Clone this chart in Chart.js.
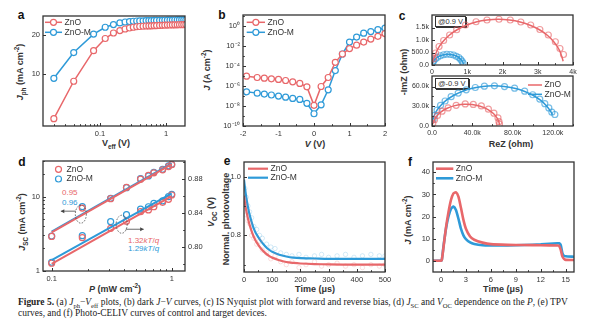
<!DOCTYPE html>
<html>
<head>
<meta charset="utf-8">
<script src="https://cdn.jsdelivr.net/npm/chart.js@4.4.1/dist/chart.umd.min.js"></script>
<style>
  html, body { margin: 0; padding: 0; background: #fff; }
  #fig { position: relative; width: 600px; height: 328px; overflow: hidden; font-family: "Liberation Sans", Arial, sans-serif; color: #333; }
  #fig canvas { position: absolute; }
  .t { position: absolute; white-space: nowrap; font-weight: bold; font-size: 9px; transform: translate(-50%, -50%); }
  .t.v { transform: translate(-50%, -50%) rotate(-90deg); }
  .lt { position: absolute; font-weight: bold; font-size: 12px; transform: translate(-50%, -50%); color: #111; }
  .note { position: absolute; font-size: 8px; white-space: nowrap; transform: translateY(-50%); }
  .bias { position: absolute; font-size: 7.5px; line-height: 9px; padding: 0 2px; background: #fff; border: 1px solid #333; box-shadow: 1px 1px 0 #333; }
  .cap { position: absolute; left: 18px; top: 297px; width: 590px; font-family: "Liberation Serif", "DejaVu Serif", serif; font-size: 9.45px; line-height: 11px; color: #222; white-space: nowrap; }
  sub, sup { font-size: 70%; line-height: 0; }
</style>
</head>
<body>
<div id="fig">
  <div class="lt" style="left:21px;top:15px">a</div>
  <div class="lt" style="left:222px;top:15px">b</div>
  <div class="lt" style="left:402px;top:16px">c</div>
  <div class="lt" style="left:22px;top:162px">d</div>
  <div class="lt" style="left:227px;top:161px">e</div>
  <div class="lt" style="left:410px;top:162px">f</div>

  <div class="t v" style="left:20px;top:72px"><i>J</i><sub>ph</sub> (mA cm<sup>-2</sup>)</div>
  <div class="t" style="left:116px;top:143px">V<sub>eff</sub> (V)</div>
  <div class="t v" style="left:207px;top:70px"><i>J</i> (A cm<sup>-2</sup>)</div>
  <div class="t" style="left:315px;top:144px"><i>V</i> (V)</div>
  <div class="t v" style="left:404px;top:72px">-ImZ (ohm)</div>
  <div class="t" style="left:511px;top:144px">ReZ (ohm)</div>
  <div class="t v" style="left:22px;top:222px"><i>J</i><sub>SC</sub> (mA cm<sup>-2</sup>)</div>
  <div class="t" style="left:115px;top:289px"><i>P</i> (mW cm<sup>-2</sup>)</div>
  <div class="t v" style="left:211px;top:212px"><i>V</i><sub>OC</sub> (V)</div>
  <div class="t v" style="left:226px;top:219px">Normal. photovoltage</div>
  <div class="t" style="left:315px;top:289px">Time (μs)</div>
  <div class="t v" style="left:408px;top:220px"><i>J</i> (mA cm<sup>-2</sup>)</div>
  <div class="t" style="left:503px;top:289px">Time (μs)</div>

  <div class="bias" style="left:435px;top:16px">@0.9 V</div>
  <div class="bias" style="left:435px;top:78px">@-0.9 V</div>

  <div class="note" style="left:62px;top:192px;color:#e8676a">0.95</div>
  <div class="note" style="left:62px;top:202px;color:#2e9ad8">0.96</div>
  <div class="note" style="left:128px;top:240px;color:#e8676a">1.32<i>kT</i>/<i>q</i></div>
  <div class="note" style="left:128px;top:248px;color:#2e9ad8">1.29<i>kT</i>/<i>q</i></div>

  <div class="cap"><b>Figure 5.</b> (a) <i>J</i><sub>ph</sub>−<i>V</i><sub>eff</sub> plots, (b) dark <i>J</i>−<i>V</i> curves, (c) IS Nyquist plot with forward and reverse bias, (d) <i>J</i><sub>SC</sub> and <i>V</i><sub>OC</sub> dependence on the <i>P</i>, (e) TPV<br>curves, and (f) Photo-CELIV curves of control and target devices.</div>
</div>

<script>
const RED = '#e8676a';
const BLUE = '#2e9ad8';

// (a) photocurrent vs effective voltage
const veff = [0.02, 0.04, 0.08, 0.12, 0.16, 0.2, 0.24, 0.28, 0.32, 0.36, 0.4, 0.45, 0.5, 0.55, 0.6, 0.66, 0.72, 0.8, 0.88, 0.96, 1.05, 1.15, 1.25, 1.36, 1.48, 1.6, 1.73, 1.86, 2.0];
const jphZnO = [4.55, 8.8, 15.1, 18.7, 20.6, 21.5, 22.1, 22.5, 22.8, 23.0, 23.1, 23.2, 23.3, 23.35, 23.4, 23.45, 23.5, 23.55, 23.6, 23.65, 23.7, 23.72, 23.75, 23.78, 23.8, 23.82, 23.85, 23.87, 23.9];
const jphZnOM = [9.27, 14.6, 20.2, 22.8, 23.9, 24.6, 25.0, 25.2, 25.35, 25.45, 25.5, 25.55, 25.6, 25.63, 25.66, 25.7, 25.72, 25.75, 25.78, 25.8, 25.82, 25.85, 25.87, 25.9, 25.92, 25.95, 25.97, 26.0, 26.0];

// (b) dark J-V
const vDark = [-1.9, -1.6, -1.4, -1.2, -1.0, -0.8, -0.6, -0.4, -0.2, 0, 0.2, 0.4, 0.6, 0.8, 1.0, 1.2, 1.4, 1.6, 1.8, 2.0];
const jDarkZnO = [1.0e-5, 7.4e-6, 6.3e-6, 5.4e-6, 4.7e-6, 3.7e-6, 2.7e-6, 1.9e-6, 8.5e-7, 1.2e-8, 9.3e-7, 7.4e-6, 2.5e-4, 1.7e-3, 5.9e-3, 1.3e-2, 2.7e-2, 5.4e-2, 0.1, 0.19];
const jDarkZnOM = [2.7e-7, 2.0e-7, 1.6e-7, 1.3e-7, 1.0e-7, 7.9e-8, 5.9e-8, 4.7e-8, 1.9e-8, 1.7e-9, 1.35e-8, 4.3e-7, 3.7e-5, 1.7e-3, 2.7e-2, 8.5e-2, 0.21, 0.3, 0.47, 0.68];

// (c) Nyquist plots in kOhm, forward bias (@0.9 V)
const reFwdFitZnO = [0, 0.03, 0.08, 0.16, 0.3, 0.48, 0.7, 0.97, 1.25, 1.56, 1.88, 2.2, 2.5, 2.8, 3.06, 3.28, 3.46, 3.6, 3.68, 3.72];
const imFwdFitZnO = [0, 0.2, 0.35, 0.63, 0.92, 1.18, 1.4, 1.59, 1.72, 1.8, 1.83, 1.8, 1.72, 1.58, 1.4, 1.18, 0.92, 0.63, 0.35, 0.15];
const reFwdZnO = [0.04, 0.1, 0.2, 0.33, 0.5, 0.7, 0.95, 1.25, 1.56, 1.9, 2.22, 2.52, 2.8, 3.06, 3.3, 3.5, 3.63, 3.73];
const imFwdZnO = [0.24, 0.48, 0.74, 0.98, 1.2, 1.41, 1.6, 1.73, 1.8, 1.83, 1.8, 1.72, 1.6, 1.42, 1.2, 0.93, 0.66, 0.42];
const reFwdFitZnOM = [0, 0.01, 0.03, 0.08, 0.17, 0.3, 0.45, 0.6, 0.73, 0.82, 0.87, 0.9];
const imFwdFitZnOM = [0, 0.06, 0.13, 0.22, 0.33, 0.40, 0.43, 0.40, 0.33, 0.22, 0.12, 0.03];
const reFwdZnOM = [0.02, 0.05, 0.1, 0.16, 0.24, 0.33, 0.42, 0.52, 0.61, 0.69, 0.76, 0.81, 0.85, 0.88];
const imFwdZnOM = [0.1, 0.17, 0.25, 0.31, 0.37, 0.41, 0.43, 0.42, 0.4, 0.35, 0.3, 0.23, 0.16, 0.08];

// (c) reverse bias (@-0.9 V), kOhm
const reRevFitZnO = [0, 0.5, 1.5, 4.1, 8.7, 15.1, 22.7, 31.1, 39.7, 47.9, 55.2, 61, 65, 66.7, 67];
const imRevFitZnO = [0, 3, 5.7, 13.9, 21.2, 27, 31, 32.9, 32.5, 29.9, 25.3, 18.9, 11.3, 4.6, 1.5];
const reRevZnO = [0.8, 2.5, 5.5, 10, 16, 24, 33, 41, 49, 56, 61.5, 65.5, 66.5, 67];
const imRevZnO = [4, 9.5, 16, 22.5, 27.5, 31.5, 33.5, 32.8, 30.5, 25.5, 19.5, 12.5, 6.5, 3];
const reRevFitZnOM = [0, 0.6, 3.7, 8.2, 14.3, 21.8, 30.5, 40.1, 50.4, 61, 71.6, 81.9, 91.5, 100.2, 107.7, 113.8, 118.3, 119.5];
const imRevFitZnOM = [0, 8.5, 20.9, 30.5, 39.2, 46.7, 52.8, 57.3, 60.1, 61, 60.1, 57.3, 52.8, 46.7, 39.2, 30.5, 20.9, 17];
const reRevZnOM = [1, 2.5, 5, 8.5, 13, 19, 26, 34, 43, 52, 62, 72, 82, 92, 100, 107, 112, 116, 119, 122];
const imRevZnOM = [10, 16, 24, 31.5, 38, 44.5, 50, 55, 58.5, 60.5, 61, 60, 57.5, 53, 47.5, 41, 34, 27.5, 21, 17.5];

// (d) light intensity dependence
const pLight = [0.1, 0.18, 0.31, 0.42, 0.55, 0.64, 0.71, 0.84, 0.94, 1.0];
const jscZnO = [2.9, 7.0, 9.4, 13.3, 17.2, 19.4, 21.0, 23.0, 25.5, 27.0];
const jscZnOM = [2.94, 7.33, 9.5, 13.2, 17.5, 19.0, 21.3, 23.4, 26.0, 27.3];
const vocZnO = [0.7805, 0.8106, 0.8216, 0.830, 0.8412, 0.8432, 0.847, 0.8522, 0.8557, 0.8608];
const vocZnOM = [0.7817, 0.8129, 0.8294, 0.8376, 0.8443, 0.847, 0.851, 0.8538, 0.8588, 0.8616];
const pFit = [0.1, 1.0];
const jscFitZnO = [3.3, 27.5];
const jscFitZnOM = [3.36, 28.2];
const vocFitZnO = [0.7797, 0.8596];
const vocFitZnOM = [0.7843, 0.8628];

// (e) transient photovoltage
const tTpv = [0, 5, 10, 15, 20, 30, 40, 50, 60, 75, 90, 100, 125, 150, 175, 200, 250, 300, 400, 500];
const tpvZnO = [0.935, 0.90, 0.875, 0.853, 0.835, 0.806, 0.784, 0.768, 0.755, 0.740, 0.729, 0.724, 0.715, 0.709, 0.706, 0.704, 0.702, 0.701, 0.700, 0.700];
const tpvZnOM = [0.99, 0.95, 0.918, 0.892, 0.87, 0.836, 0.811, 0.795, 0.78, 0.763, 0.75, 0.744, 0.734, 0.728, 0.724, 0.722, 0.721, 0.720, 0.720, 0.720];
const tTpvRaw = [3, 8, 14, 20, 27, 35, 45, 55, 65, 80, 95, 110, 130, 150, 170, 195, 220, 250, 275, 300, 330, 360, 390, 420, 450, 480, 500];
const tpvRawZnO = [0.91, 0.87, 0.85, 0.84, 0.80, 0.79, 0.77, 0.78, 0.75, 0.74, 0.72, 0.73, 0.71, 0.70, 0.71, 0.69, 0.70, 0.71, 0.695, 0.70, 0.705, 0.695, 0.70, 0.69, 0.70, 0.695, 0.70];
const tpvRawZnOM = [0.96, 0.93, 0.90, 0.88, 0.86, 0.83, 0.82, 0.80, 0.79, 0.77, 0.76, 0.755, 0.74, 0.735, 0.73, 0.735, 0.725, 0.73, 0.735, 0.725, 0.73, 0.735, 0.725, 0.73, 0.735, 0.73, 0.73];

// (f) photo-CELIV
const tCeliv = [-1, 0, 0.1, 0.3, 0.6, 0.9, 1.2, 1.5, 1.8, 2.1, 2.4, 2.7, 3.0, 3.5, 4, 5, 6, 8, 10, 12, 14, 14.2, 14.4, 14.6, 14.8, 15, 16];
const celivZnO = [0, 0, 0.3, 6, 15, 22, 27.5, 30.5, 31, 29, 24, 18.5, 14.5, 11, 9.5, 8.2, 7.5, 7.2, 7.1, 7.0, 6.9, 6.8, 5, 2, 0.8, 0.4, 0.3];
const celivZnOM = [0, 0, 0.3, 6.5, 14.5, 20, 23.5, 24.5, 23, 19, 14.5, 11.5, 9.8, 8.3, 7.6, 7.0, 6.9, 6.9, 7.1, 7.4, 7.9, 7.9, 7.2, 3.5, 2.2, 2.0, 1.8];

// axis ticks: labelled and unlabelled positions
const aXMajor = [0.1, 1], aXMinor = [0.02, 0.03, 0.04, 0.05, 0.06, 0.07, 0.08, 0.09, 0.2, 0.3, 0.4, 0.5, 0.6, 0.7, 0.8, 0.9];
const aYMajor = [10, 20];
const bXMajor = [-2, -1, 0, 1, 2], bXMinor = [-1.5, -0.5, 0.5, 1.5];
const bYMajor = [1e-10, 1e-8, 1e-6, 1e-4, 1e-2, 1], bYMinor = [1e-9, 1e-7, 1e-5, 1e-3, 1e-1, 10];
const cTopXMajor = [0, 1, 2, 3, 4], cTopXMinor = [0.5, 1.5, 2.5, 3.5], cTopYMajor = [0, 0.5, 1, 1.5];
const cBotXMajor = [0, 40, 80, 120], cBotXMinor = [20, 60, 100, 140], cBotYMajor = [0, 30, 60], cBotYMinor = [15, 45];
const dXMajor = [0.1, 1], dXMinor = [0.2, 0.3, 0.4, 0.5, 0.6, 0.7, 0.8, 0.9];
const dYMajor = [1, 10], dYMinor = [2, 3, 4, 5, 6, 7, 8, 9, 20, 30];
const dY2Major = [0.80, 0.84, 0.88], dY2Minor = [0.78, 0.82, 0.86, 0.90];
const eXMajor = [0, 100, 200, 300, 400, 500], eXMinor = [50, 150, 250, 350, 450];
const eYMajor = [0.8, 1.0], eYMinor = [0.7, 0.9];
const fXMajor = [0, 3, 6, 9, 12, 15], fXMinor = [1.5, 4.5, 7.5, 10.5, 13.5];
const fYMajor = [0, 10, 20, 30, 40], fYMinor = [5, 15, 25, 35];

Chart.defaults.font.family = '"Liberation Sans", Arial, sans-serif';
Chart.defaults.font.size = 7.5;
Chart.defaults.color = '#333';
Chart.defaults.plugins.legend.display = false;
Chart.defaults.plugins.tooltip.enabled = false;

const fig = document.getElementById('fig');

function pts(xs, ys) {
  return xs.map((x, i) => ({ x: x, y: ys[i] }));
}

function axis(type, min, max, major, minor, fmt, extra) {
  const all = major.concat(minor || []);
  return Object.assign({
    type: type, min: min, max: max, bounds: 'data',
    grid: { display: false, drawTicks: false },
    border: { display: false },
    afterBuildTicks: s => { s.ticks = all.map(v => ({ value: v })); },
    ticks: {
      autoSkip: false, maxRotation: 0, minRotation: 0, padding: 3,
      callback: v => major.includes(v) ? fmt(v) : ''
    }
  }, extra || {});
}

function line(label, xs, ys, color, width, key) {
  return { label: label, data: pts(xs, ys), showLine: true, borderColor: color, borderWidth: width,
    pointRadius: 0, key: key };
}

function dots(label, xs, ys, color, fill, key) {
  return { label: label, data: pts(xs, ys), showLine: false, pointRadius: 3,
    pointBorderColor: color, pointBackgroundColor: fill, pointBorderWidth: 1.2, key: key };
}

function lineDots(label, xs, ys, color) {
  return { label: label, data: pts(xs, ys), showLine: true, borderColor: color, borderWidth: 1.5,
    pointRadius: 3, pointBorderColor: color, pointBackgroundColor: '#fff', pointBorderWidth: 1.2, key: true };
}

// box frame and inward tick marks
const frame = {
  id: 'frame',
  afterDatasetsDraw(chart) {
    const { ctx, chartArea: a } = chart;
    ctx.save();
    ctx.strokeStyle = '#333';
    ctx.lineWidth = 1;
    Object.values(chart.scales).forEach(s => {
      s.ticks.forEach(t => {
        const p = Math.round(s.getPixelForValue(t.value)) + 0.5;
        const len = t.label ? 3 : 1.8;
        ctx.beginPath();
        if (s.axis === 'x') { ctx.moveTo(p, a.bottom); ctx.lineTo(p, a.bottom - len); }
        else if (s.position === 'right') { ctx.moveTo(a.right, p); ctx.lineTo(a.right - len, p); }
        else { ctx.moveTo(a.left, p); ctx.lineTo(a.left + len, p); }
        ctx.stroke();
      });
    });
    ctx.lineWidth = 1.3;
    ctx.strokeRect(a.left, a.top, a.right - a.left, a.bottom - a.top);
    ctx.restore();
  }
};

// legend drawn inside the plot area
function keyAt(x, y, dy, len) {
  return {
    id: 'key',
    afterDraw(chart) {
      const { ctx, chartArea: a } = chart;
      let row = 0;
      ctx.save();
      ctx.font = '8.5px "Liberation Sans", Arial, sans-serif';
      ctx.textBaseline = 'middle';
      chart.data.datasets.forEach(ds => {
        if (!ds.key) return;
        const x0 = a.left + x, yy = a.top + y + row * dy;
        if (ds.showLine) {
          ctx.strokeStyle = ds.borderColor;
          ctx.lineWidth = ds.borderWidth;
          ctx.beginPath(); ctx.moveTo(x0, yy); ctx.lineTo(x0 + len, yy); ctx.stroke();
        }
        if (ds.pointRadius > 0) {
          ctx.strokeStyle = ds.pointBorderColor;
          ctx.fillStyle = ds.pointBackgroundColor;
          ctx.lineWidth = ds.pointBorderWidth;
          ctx.beginPath(); ctx.arc(x0 + len / 2, yy, ds.pointRadius, 0, Math.PI * 2);
          ctx.fill(); ctx.stroke();
        }
        ctx.fillStyle = '#333';
        ctx.fillText(ds.label, x0 + len + 2.5, yy);
        row++;
      });
      ctx.restore();
    }
  };
}

// dashed ellipses with arrows pointing at the matching axis
const dMarks = {
  id: 'dMarks',
  afterDatasetsDraw(chart) {
    const { ctx, scales: { x, y, y2 } } = chart;
    const arrow = (x1, y1, x2) => {
      const d = Math.sign(x2 - x1);
      ctx.beginPath(); ctx.moveTo(x1, y1); ctx.lineTo(x2, y1); ctx.stroke();
      ctx.beginPath(); ctx.moveTo(x2, y1); ctx.lineTo(x2 - d * 3.5, y1 - 2); ctx.lineTo(x2 - d * 3.5, y1 + 2); ctx.closePath(); ctx.fill();
    };
    ctx.save();
    ctx.strokeStyle = '#444'; ctx.fillStyle = '#444'; ctx.lineWidth = 0.8;
    const e1x = x.getPixelForValue(0.175), e1y = y.getPixelForValue(5.8);
    const e2x = x.getPixelForValue(0.383), e2y = y2.getPixelForValue(0.8264);
    ctx.setLineDash([1.5, 1.5]);
    ctx.beginPath(); ctx.ellipse(e1x, e1y, 5.5, 9, 0, 0, Math.PI * 2); ctx.stroke();
    ctx.beginPath(); ctx.ellipse(e2x, e2y, 5.5, 9, 0, 0, Math.PI * 2); ctx.stroke();
    ctx.setLineDash([]);
    arrow(e1x - 5, e1y - 3, e1x - 20);
    arrow(e2x + 4, e2y + 5, e2x + 22);
    ctx.restore();
  }
};

function panel(box, plot, cfg, extra) {
  const c = document.createElement('canvas');
  c.width = box[2] - box[0];
  c.height = box[3] - box[1];
  c.style.left = box[0] + 'px';
  c.style.top = box[1] + 'px';
  fig.appendChild(c);
  const sizes = { left: plot[0] - box[0], right: box[2] - plot[2], bottom: box[3] - plot[3] };
  const sc = cfg.options.scales;
  for (const id in sc) {
    const pos = sc[id].position || (id[0] === 'x' ? 'bottom' : 'left');
    sc[id].position = pos;
    sc[id].afterFit = s => { if (pos === 'bottom') s.height = sizes.bottom; else s.width = sizes[pos]; };
  }
  cfg.options.layout = { padding: { top: plot[1] - box[1], right: sc.y2 ? 0 : sizes.right, left: 0, bottom: 0 } };
  cfg.options.responsive = false;
  cfg.options.animation = false;
  cfg.type = 'scatter';
  cfg.plugins = [frame].concat(extra || []);
  return new Chart(c, cfg);
}

const num = v => String(v);

// (a)
panel([0, 0, 200, 142], [43, 16, 185, 126], {
  data: { datasets: [
    lineDots('ZnO', veff, jphZnO, RED),
    lineDots('ZnO-M', veff, jphZnOM, BLUE)
  ] },
  options: { scales: {
    x: axis('logarithmic', 0.0137, 1.94, aXMajor, aXMinor, num),
    y: axis('logarithmic', 4, 27.8, aYMajor, [], num)
  } }
}, [keyAt(2, 6.3, 10, 17)]);

// (b)
const sup = { '-': '⁻', '0': '⁰', '1': '¹', '2': '²', '4': '⁴', '6': '⁶', '8': '⁸' };
const pow10 = v => '10' + String(Math.round(Math.log10(v))).split('').map(ch => sup[ch]).join('');
panel([200, 0, 400, 142], [243, 15, 385, 126], {
  data: { datasets: [
    lineDots('ZnO', vDark, jDarkZnO, RED),
    lineDots('ZnO-M', vDark, jDarkZnOM, BLUE)
  ] },
  options: { scales: {
    x: axis('linear', -2, 2, bXMajor, bXMinor, num),
    y: axis('logarithmic', 1e-10, 14, bYMajor, bYMinor, pow10)
  } }
}, [keyAt(3.7, 7.3, 10, 18.3)]);

// (c) forward bias
const small = { font: { size: 7 } };
const kTop = v => v === 0 ? '0' : v + 'k';
const kTopY = v => v === 0 ? '0.0' : v < 1 ? (v * 1000).toFixed(1) : v.toFixed(1) + 'k';
const ringRed = 'rgba(232,103,106,0.65)', ringBlue = 'rgba(46,154,216,0.65)';
const cTop = panel([395, 5, 600, 75], [432, 15, 573, 65], {
  data: { datasets: [
    line('', reFwdFitZnO, imFwdFitZnO, RED, 1.5),
    dots('', reFwdZnO, imFwdZnO, ringRed, 'transparent'),
    line('', reFwdFitZnOM, imFwdFitZnOM, BLUE, 1.5),
    dots('', reFwdZnOM, imFwdZnOM, ringBlue, 'transparent')
  ].map(ds => Object.assign(ds, { tension: 0.4 })) },
  options: { scales: {
    x: axis('linear', 0, 4, cTopXMajor, cTopXMinor, kTop),
    y: axis('linear', 0, 2.0, cTopYMajor, [], kTopY)
  } }
});

// (c) reverse bias
const kBot = v => v === 0 ? '0.0' : v.toFixed(1) + 'k';
const cBot = panel([395, 68, 600, 142], [432, 76, 573, 126], {
  data: { datasets: [
    line('ZnO', reRevFitZnO, imRevFitZnO, RED, 1.5, true),
    dots('', reRevZnO, imRevZnO, ringRed, 'transparent'),
    line('ZnO-M', reRevFitZnOM, imRevFitZnOM, BLUE, 1.5, true),
    dots('', reRevZnOM, imRevZnOM, ringBlue, 'transparent')
  ].map(ds => Object.assign(ds, { tension: 0.4 })) },
  options: { scales: {
    x: axis('linear', 0, 140, cBotXMajor, cBotXMinor, kBot),
    y: axis('linear', 0, 76, cBotYMajor, cBotYMinor, kBot)
  } }
}, [keyAt(96, 9, 9.3, 14)]);

// slightly smaller tick text on the two impedance plots
[cTop, cBot].forEach(ch => {
  ch.options.scales.x.ticks.font = small.font;
  ch.options.scales.y.ticks.font = small.font;
  ch.update();
});

// (d)
panel([0, 145, 205, 295], [43, 161, 185, 271], {
  data: { datasets: [
    line('', pFit, jscFitZnO, RED, 2),
    line('', pFit, jscFitZnOM, BLUE, 2),
    line('', pFit, vocFitZnO, RED, 2),
    line('', pFit, vocFitZnOM, BLUE, 2),
    dots('ZnO', pLight, jscZnO, RED, 'transparent', true),
    dots('ZnO-M', pLight, jscZnOM, BLUE, 'transparent', true),
    dots('', pLight, vocZnO, RED, 'transparent'),
    dots('', pLight, vocZnOM, BLUE, 'transparent')
  ].map((ds, i) => Object.assign(ds, { yAxisID: (i === 2 || i === 3 || i > 5) ? 'y2' : 'y' })) },
  options: { scales: {
    x: axis('logarithmic', 0.0847, 1.29, dXMajor, dXMinor, num),
    y: axis('logarithmic', 0.99, 30.3, dYMajor, dYMinor, num),
    y2: axis('linear', 0.7714, 0.9008, dY2Major, dY2Minor, v => v.toFixed(2), { position: 'right' })
  } }
}, [keyAt(10, 8.3, 9.7, 11), dMarks]);

// (e)
const faintRed = 'rgba(232,103,106,0.2)', faintBlue = 'rgba(46,154,216,0.2)';
panel([205, 145, 400, 295], [244, 162, 385, 272], {
  data: { datasets: [
    Object.assign(dots('', tTpvRaw, tpvRawZnO, faintRed, 'transparent'), { pointRadius: 2.2, pointBorderWidth: 1 }),
    Object.assign(dots('', tTpvRaw, tpvRawZnOM, faintBlue, 'transparent'), { pointRadius: 2.2, pointBorderWidth: 1 }),
    Object.assign(line('ZnO', tTpv, tpvZnO, RED, 2.2, true), { tension: 0.3 }),
    Object.assign(line('ZnO-M', tTpv, tpvZnOM, BLUE, 2.2, true), { tension: 0.3 })
  ] },
  options: { scales: {
    x: axis('linear', 0, 500, eXMajor, eXMinor, num),
    y: axis('linear', 0.675, 1.05, eYMajor, eYMinor, v => v.toFixed(1))
  } }
}, [keyAt(4, 6.7, 9, 20)]);

// (f)
panel([400, 145, 600, 295], [433, 162, 574, 272], {
  data: { datasets: [
    Object.assign(line('ZnO', tCeliv, celivZnO, RED, 2.6, true), { tension: 0.2 }),
    Object.assign(line('ZnO-M', tCeliv, celivZnOM, BLUE, 2.6, true), { tension: 0.2 })
  ] },
  options: { scales: {
    x: axis('linear', -0.96, 16, fXMajor, fXMinor, num),
    y: axis('linear', -5.1, 44.7, fYMajor, fYMinor, num)
  } }
}, [keyAt(3, 6.7, 9.6, 17.3)]);
</script>
</body>
</html>
